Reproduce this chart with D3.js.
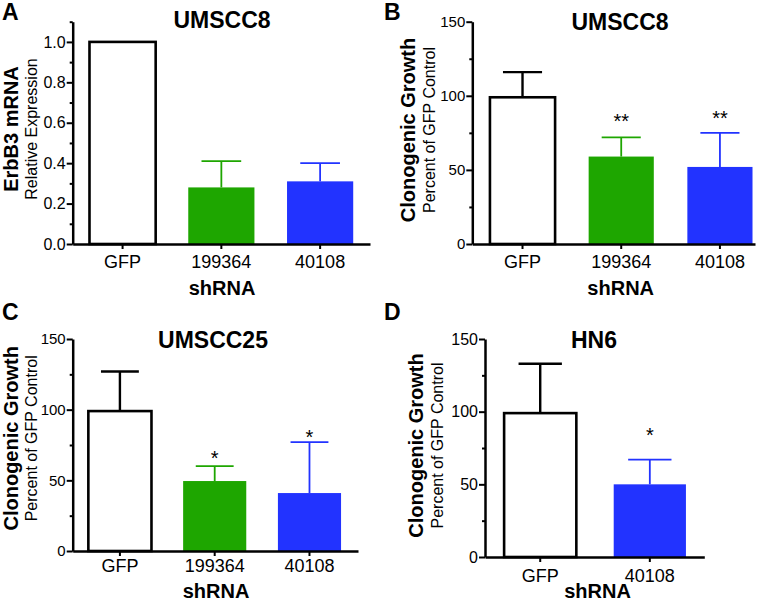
<!DOCTYPE html>
<html><head><meta charset="utf-8">
<script src="https://cdn.jsdelivr.net/npm/d3@7"></script>
<style>
html,body{margin:0;padding:0;background:#fff;}
text{font-family:"Liberation Sans",Arial,Helvetica,sans-serif;fill:#000;}
</style></head>
<body>
<svg id="chart" width="769" height="602"></svg>
<script>
// ---- data ----
const categories3 = ["GFP", "199364", "40108"];
const categories2 = ["GFP", "40108"];
const colorByCat = {"GFP": "#ffffff", "199364": "#1ea600", "40108": "#2233ff"};

const valuesA = [1.0, 0.28, 0.31];
const errorsA = [0, 0.13, 0.09];
const starsA = ["", "", ""];
const starPosA = [null, null, null];
const yTicksA = [0, 0.2, 0.4, 0.6, 0.8, 1.0];
const yMinorA = [0.1, 0.3, 0.5, 0.7, 0.9, 1.1];

const valuesB = [99, 59, 52];
const errorsB = [17, 13, 23];
const starsB = ["", "**", "**"];
const starPosB = [null, 86, 88];

const valuesC = [99, 49.5, 41];
const errorsC = [28, 10.5, 36];
const starsC = ["", "*", "*"];
const starPosC = [null, 69, 84];

const valuesD = [99, 50];
const errorsD = [34, 17];
const starsD = ["", "*"];
const starPosD = [null, 87];

const yTicksPct = [0, 50, 100, 150];
const yMinorPct = [25, 75, 125];

// ---- drawing ----
const svg = d3.select("#chart");

function panel(cfg) {
  const g = svg.append("g");
  const x = d3.scaleBand().domain(cfg.cats).range([cfg.x0, cfg.x1])
    .paddingInner(cfg.pi).paddingOuter(cfg.po).align(cfg.align);
  const y = d3.scaleLinear().domain([0, cfg.ymax]).range([cfg.y0, cfg.yTop]);
  const data = cfg.cats.map((c, i) => ({c, v: cfg.values[i], e: cfg.errors[i], s: cfg.stars[i], sp: cfg.starPos[i]}));

  // error bars
  const capW = x.bandwidth() * 0.6;
  data.filter(d => d.e > 0).forEach(d => {
    const cx = x(d.c) + x.bandwidth() / 2;
    const col = d.c === "GFP" ? "#000" : colorByCat[d.c];
    const sw = d.c === "GFP" ? 2.4 : 1.8;
    g.append("line").attr("x1", cx).attr("x2", cx).attr("y1", y(d.v)).attr("y2", y(d.v + d.e))
      .attr("stroke", col).attr("stroke-width", sw);
    g.append("line").attr("x1", cx - capW / 2).attr("x2", cx + capW / 2).attr("y1", y(d.v + d.e)).attr("y2", y(d.v + d.e))
      .attr("stroke", col).attr("stroke-width", sw);
  });

  // bars
  g.selectAll("rect.bar").data(data).join("rect").attr("class", "bar")
    .attr("x", d => x(d.c)).attr("width", x.bandwidth())
    .attr("y", d => y(d.v)).attr("height", d => y(0) - y(d.v))
    .attr("fill", d => colorByCat[d.c])
    .attr("stroke", d => d.c === "GFP" ? "#000" : "none")
    .attr("stroke-width", 2.6);

  // stars
  data.filter(d => d.s).forEach(d => {
    g.append("text").attr("x", x(d.c) + x.bandwidth() / 2).attr("y", y(d.sp) + 11.5)
      .attr("text-anchor", "middle").style("font-size", "20px").text(d.s);
  });

  // y axis
  const ya = g.append("g").attr("transform", `translate(${cfg.x0},0)`)
    .call(d3.axisLeft(y).tickValues(cfg.yTicks).tickSize(6).tickSizeOuter(0).tickPadding(1)
      .tickFormat(cfg.yFmt));
  ya.append("g").call(d3.axisLeft(y).tickValues(cfg.yMinor).tickSize(3).tickFormat(""))
    .select(".domain").remove();
  ya.selectAll("text").style("font-size", cfg.yFont + "px").attr("fill", "#000");
  ya.selectAll("line").attr("stroke", "#000").attr("stroke-width", 2);
  ya.selectAll(".domain").attr("stroke", "#000").attr("stroke-width", 2.5);

  // x axis
  const xa = g.append("g").attr("transform", `translate(0,${cfg.y0})`)
    .call(d3.axisBottom(x).tickSize(5).tickSizeOuter(0).tickPadding(cfg.xPad));
  xa.selectAll("text").style("font-size", "18px").attr("fill", "#000");
  xa.selectAll("line").attr("stroke", "#000").attr("stroke-width", 2);
  xa.selectAll(".domain").attr("stroke", "#000").attr("stroke-width", 2.5);

  // titles
  g.append("text").attr("x", cfg.titleX).attr("y", cfg.titleY).attr("text-anchor", "middle")
    .style("font-size", "23px").style("font-weight", "bold").text(cfg.title);
  g.append("text").attr("x", cfg.letterX).attr("y", cfg.letterY)
    .style("font-size", "23px").style("font-weight", "bold").text(cfg.letter);
  g.append("text").attr("x", cfg.xtX).attr("y", cfg.xtY).attr("text-anchor", "middle")
    .style("font-size", "20px").style("font-weight", "bold").text("shRNA");
  g.append("text").attr("transform", `translate(${cfg.yt1X},${cfg.ytY}) rotate(-90)`)
    .attr("text-anchor", "middle").style("font-size", "20px").style("font-weight", "bold").text(cfg.yt1);
  g.append("text").attr("transform", `translate(${cfg.yt2X},${cfg.ytY}) rotate(-90)`)
    .attr("text-anchor", "middle").style("font-size", "16px").text(cfg.yt2);
}

panel({cats: categories3, values: valuesA, errors: errorsA, stars: starsA, starPos: starPosA,
  x0: 72.7, x1: 370, pi: 0.33, po: 0.17, align: 0.5,
  ymax: 1.1, y0: 244, yTop: 21.7, yTicks: yTicksA, yMinor: yMinorA, yFmt: d3.format(".1f"), yFont: 16,
  xPad: 6.5, title: "UMSCC8", titleX: 222, titleY: 28, letter: "A", letterX: 2, letterY: 19.5,
  xtX: 222, xtY: 295, yt1: "ErbB3 mRNA", yt2: "Relative Expression", yt1X: 18, yt2X: 36.5, ytY: 129});

panel({cats: categories3, values: valuesB, errors: errorsB, stars: starsB, starPos: starPosB,
  x0: 472.3, x1: 755, pi: 0.34, po: 0.102, align: 0.876,
  ymax: 150, y0: 244, yTop: 21.7, yTicks: yTicksPct, yMinor: yMinorPct, yFmt: d3.format("d"), yFont: 15,
  xPad: 6.5, title: "UMSCC8", titleX: 620, titleY: 30, letter: "B", letterX: 384, letterY: 19.5,
  xtX: 620.7, xtY: 295, yt1: "Clonogenic Growth", yt2: "Percent of GFP Control", yt1X: 414.5, yt2X: 434.5, ytY: 130});

panel({cats: categories3, values: valuesC, errors: errorsC, stars: starsC, starPos: starPosC,
  x0: 72.7, x1: 358, pi: 0.334, po: 0.172, align: 0.48,
  ymax: 150, y0: 551, yTop: 339, yTicks: yTicksPct, yMinor: yMinorPct, yFmt: d3.format("d"), yFont: 15,
  xPad: 3.2, title: "UMSCC25", titleX: 213, titleY: 348.3, letter: "C", letterX: 2, letterY: 320,
  xtX: 216, xtY: 597.7, yt1: "Clonogenic Growth", yt2: "Percent of GFP Control", yt1X: 17.7, yt2X: 36.5, ytY: 438.3});

panel({cats: categories2, values: valuesD, errors: errorsD, stars: starsD, starPos: starPosD,
  x0: 485, x1: 704.3, pi: 0.341, po: 0.171, align: 0.51,
  ymax: 150, y0: 557, yTop: 339, yTicks: yTicksPct, yMinor: yMinorPct, yFmt: d3.format("d"), yFont: 16,
  xPad: 7.2, title: "HN6", titleX: 594, titleY: 348, letter: "D", letterX: 384, letterY: 320,
  xtX: 597.5, xtY: 598.3, yt1: "Clonogenic Growth", yt2: "Percent of GFP Control", yt1X: 422.7, yt2X: 443.2, ytY: 445.5});
</script>
</body></html>
